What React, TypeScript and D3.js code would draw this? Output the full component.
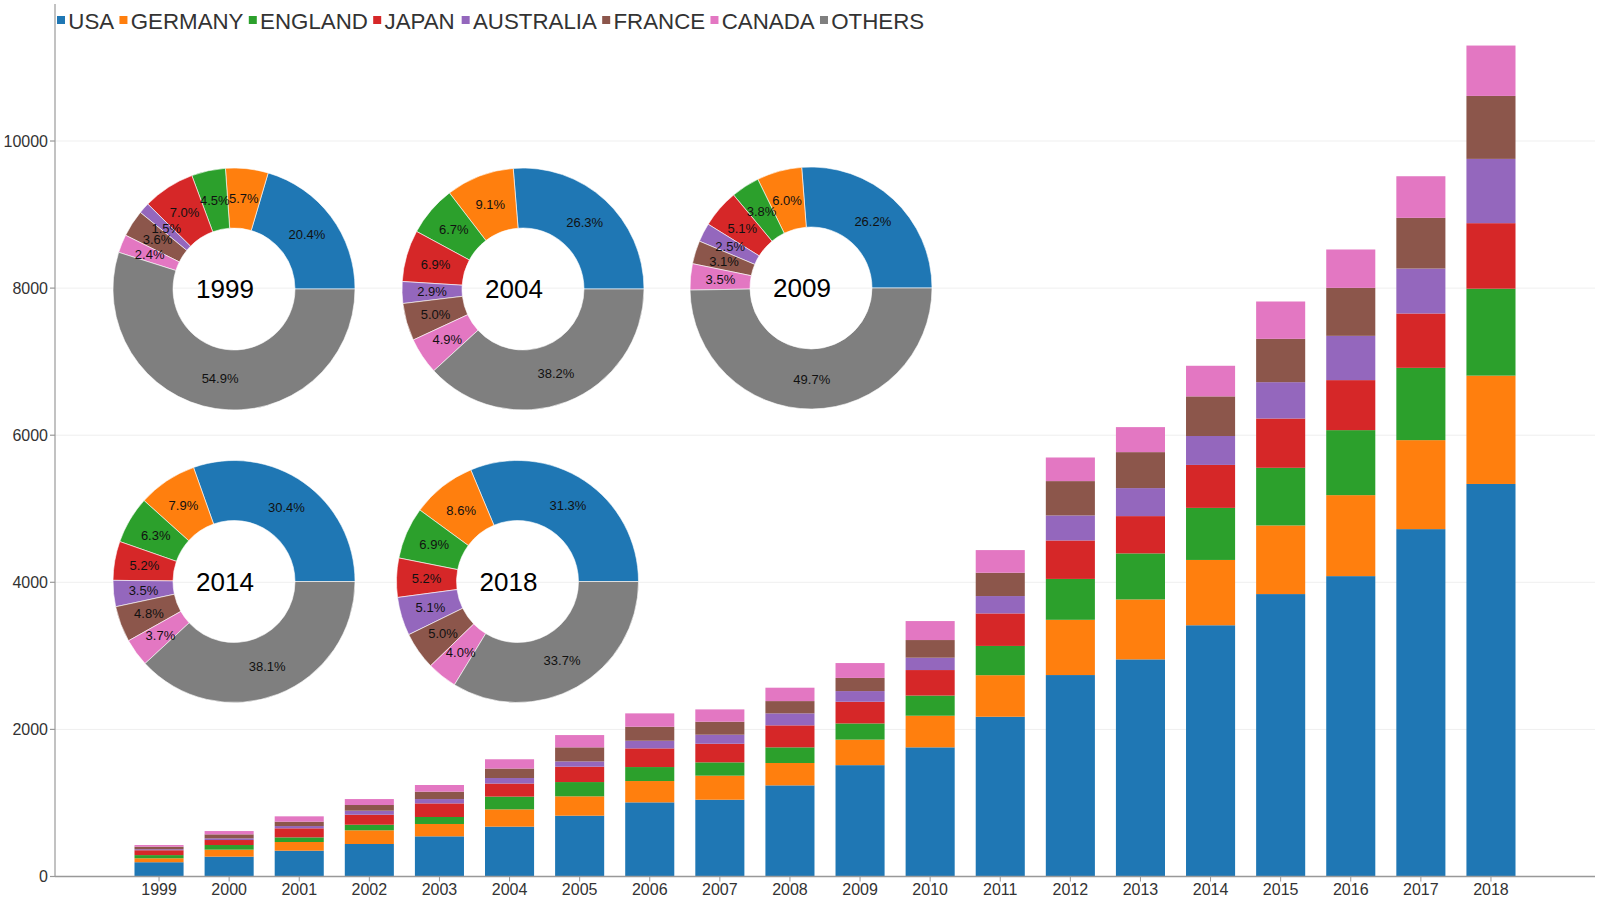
import React from "react";
import * as d3 from "d3";

const years = [1999, 2000, 2001, 2002, 2003, 2004, 2005, 2006, 2007, 2008, 2009, 2010, 2011, 2012, 2013, 2014, 2015, 2016, 2017, 2018];
const seriesNames = ["USA", "GERMANY", "ENGLAND", "JAPAN", "AUSTRALIA", "FRANCE", "CANADA", "OTHERS"];
const colors = ["#1f77b4", "#ff7f0e", "#2ca02c", "#d62728", "#9467bd", "#8c564b", "#e377c2", "#7f7f7f"];

const usa = [194, 270, 351, 442, 546, 678, 827, 1008, 1044, 1239, 1514, 1756, 2172, 2739, 2952, 3416, 3840, 4084, 4723, 5337];
const germany = [54, 95, 118, 186, 168, 235, 263, 290, 327, 304, 347, 430, 565, 751, 815, 888, 933, 1101, 1210, 1473];
const england = [43, 63, 63, 76, 95, 173, 194, 190, 181, 213, 220, 274, 398, 556, 626, 708, 784, 884, 983, 1182];
const japan = [66, 68, 123, 136, 185, 178, 209, 254, 253, 299, 295, 347, 442, 523, 507, 584, 670, 680, 739, 891];
const australia = [14, 23, 31, 55, 59, 75, 72, 104, 123, 163, 145, 168, 236, 340, 381, 393, 494, 602, 611, 874];
const france = [34, 54, 59, 77, 100, 129, 191, 190, 176, 167, 179, 240, 317, 467, 489, 539, 589, 652, 689, 856];
const canada = [23, 45, 73, 81, 91, 126, 167, 182, 168, 182, 202, 258, 308, 321, 340, 416, 508, 522, 566, 685];

// OTHERS only appears in the donuts
const donutYears = [1999, 2004, 2009, 2014, 2018];
const others = [521, 985, 2870, 4282, 5749];
const donutCenters = [[234, 289], [523, 289], [811, 288], [234, 581.5], [517.5, 581.5]];

const yTicks = [0, 2000, 4000, 6000, 8000, 10000];

const FONT = "'Liberation Sans', Arial, Helvetica, sans-serif";

export default function App() {
  const W = 1600, H = 900;
  const left = 55, right = 1595, top = 4, bottom = 876.5;

  const barSeries = [usa, germany, england, japan, australia, france, canada];
  const table = years.map((y, i) => {
    const row: any = { year: y };
    barSeries.forEach((s, k) => (row[seriesNames[k]] = s[i]));
    return row;
  });
  const stack = d3.stack<any>().keys(seriesNames.slice(0, 7));
  const stacked = stack(table);
  const maxTotal = d3.max(table, (r: any) => seriesNames.slice(0, 7).reduce((a, k) => a + r[k], 0)) as number;

  const x = d3.scaleBand<number>().domain(years).range([left, right]).paddingInner(0.3).paddingOuter(1.134);
  const y = d3.scaleLinear().domain([0, maxTotal * 1.05]).range([bottom, top]);

  const R = 121, r = 61;
  const arc = d3.arc<any>().innerRadius(r).outerRadius(R);
  const labelArc = d3.arc<any>().innerRadius((R + r) / 2).outerRadius((R + r) / 2);
  const pie = d3.pie<number>().sort(null).startAngle(Math.PI / 2).endAngle(Math.PI / 2 - 2 * Math.PI);

  // legend layout
  const legendFont = 22.3;
  const measure = (t: string) => {
    const w: Record<string, number> = { U: .722, S: .667, A: .667, G: .778, E: .667, R: .722, M: .833, N: .722, Y: .667, L: .556, D: .722, J: .5, P: .667, T: .611, I: .278, F: .611, C: .722, O: .778, H: .722 };
    return t.split("").reduce((a, c) => a + (w[c] || .6), 0) * legendFont;
  };
  let lx = 57;
  const legendItems = seriesNames.map((n, i) => {
    const item = { n, i, x: lx };
    lx += 8 + 3.3 + measure(n) + 5.3;
    return item;
  });

  return (
    <svg width={W} height={H} style={{ position: "absolute", left: 0, top: 0, background: "#fff", fontFamily: FONT }}>
      {/* gridlines */}
      {yTicks.filter(t => t > 0).map(t => (
        <line key={"g" + t} x1={left} x2={right} y1={y(t)} y2={y(t)} stroke="#efefef" strokeWidth={1} />
      ))}
      {/* bars */}
      {stacked.map((layer, k) => (
        <g key={layer.key} fill={colors[k]}>
          {layer.map((d: any, i: number) => (
            <rect key={i} x={x(years[i])} width={x.bandwidth()} y={y(d[1])} height={y(d[0]) - y(d[1])} />
          ))}
        </g>
      ))}
      {/* y axis */}
      <line x1={left} x2={left} y1={top} y2={bottom} stroke="#999" strokeWidth={1.2} />
      {yTicks.map(t => (
        <g key={"yt" + t}>
          <line x1={left - 5} x2={left} y1={y(t)} y2={y(t)} stroke="#999" strokeWidth={1.2} />
          <text x={left - 7} y={y(t)} dy="0.35em" textAnchor="end" fontSize={16} fill="#333">{t}</text>
        </g>
      ))}
      {/* x axis */}
      <line x1={left} x2={right} y1={bottom} y2={bottom} stroke="#999" strokeWidth={1.5} />
      {years.map(yr => (
        <g key={"xt" + yr}>
          <line x1={(x(yr) as number) + x.bandwidth() / 2} x2={(x(yr) as number) + x.bandwidth() / 2} y1={bottom} y2={bottom + 5} stroke="#999" />
          <text x={(x(yr) as number) + x.bandwidth() / 2} y={895} textAnchor="middle" fontSize={16} fill="#333">{yr}</text>
        </g>
      ))}
      {/* donuts */}
      {donutYears.map((dy, j) => {
        const idx = years.indexOf(dy);
        const vals = [...barSeries.map(s => s[idx]), others[j]];
        const total = d3.sum(vals);
        const arcs = pie(vals);
        const [cx, cy] = donutCenters[j];
        return (
          <g key={"d" + dy} transform={`translate(${cx},${cy})`}>
            {arcs.map((a, k) => (
              <path key={k} d={arc(a) as string} fill={colors[k]} stroke="#fff" strokeWidth={0.6} />
            ))}
            {arcs.map((a, k) => {
              const [tx, ty] = labelArc.centroid(a);
              return (
                <text key={"l" + k} x={tx} y={ty} dy="0.35em" textAnchor="middle" fontSize={13} fill="#111">
                  {((vals[k] / total) * 100).toFixed(1)}%
                </text>
              );
            })}
            <text x={-9} y={0} dy="0.35em" textAnchor="middle" fontSize={26} fill="#000">{dy}</text>
          </g>
        );
      })}
      {/* legend */}
      {legendItems.map(it => (
        <g key={"lg" + it.n}>
          <rect x={it.x} y={16} width={8} height={8} fill={colors[it.i]} />
          <text x={it.x + 11.3} y={29} fontSize={legendFont} fill="#333">{it.n}</text>
        </g>
      ))}
    </svg>
  );
}
